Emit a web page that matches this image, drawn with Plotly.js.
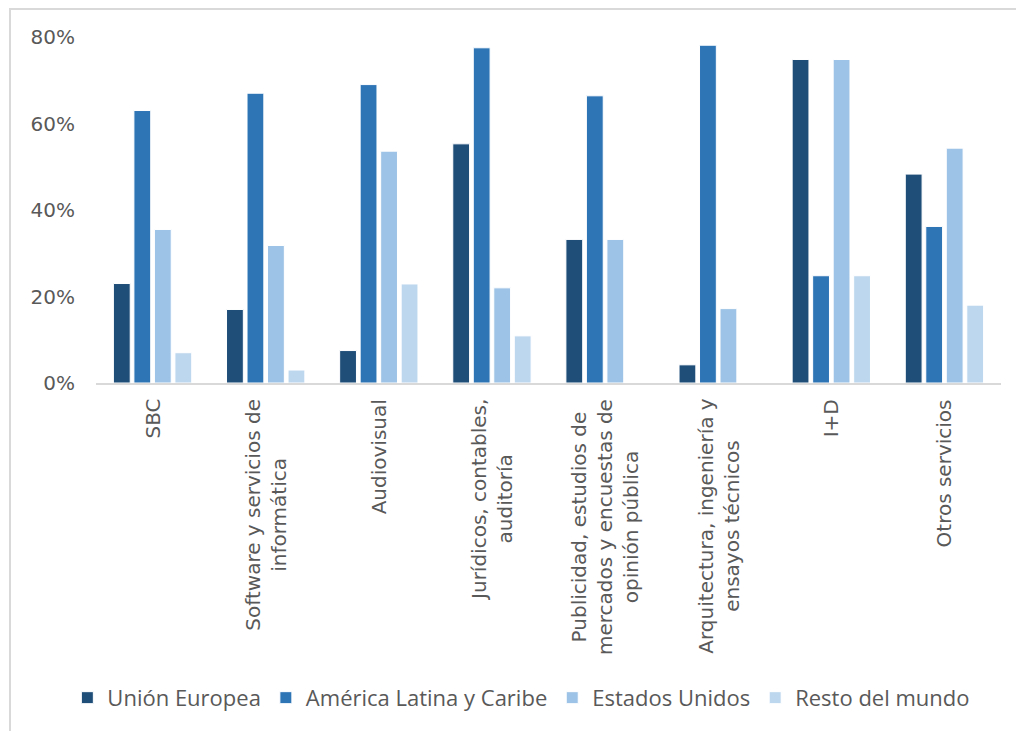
<!DOCTYPE html>
<html>
<head>
<meta charset="utf-8">
<script src="https://cdn.plot.ly/plotly-3.0.1.min.js"></script>
<style>
  html, body { margin: 0; padding: 0; background: #ffffff; overflow: hidden; }
  #frame { position: absolute; left: 9px; top: 8px; width: 1100px; height: 800px; border: 2px solid #d9d9d9; box-sizing: border-box; }
  #chart { position: absolute; left: 0; top: 0; width: 1016px; height: 731px; }
</style>
</head>
<body>
<div id="frame"></div>
<div id="chart"></div>
<script>
const categories = [
  "SBC",
  "Software y servicios de<br>informática",
  "Audiovisual",
  "Jurídicos, contables,<br>auditoría",
  "Publicidad, estudios de<br>mercados y encuestas de<br>opinión pública",
  "Arquitectura, ingeniería y<br>ensayos técnicos",
  "I+D",
  "Otros servicios"
];
const seriesNames = ["Unión Europea", "América Latina y Caribe", "Estados Unidos", "Resto del mundo"];
const unionEuropea   = [0.23, 0.17, 0.075, 0.553, 0.332, 0.042, 0.748, 0.483];
const americaLatina  = [0.63, 0.67, 0.69, 0.775, 0.664, 0.781, 0.248, 0.362];
const estadosUnidos  = [0.355, 0.318, 0.536, 0.22, 0.332, 0.172, 0.748, 0.543];
const restoMundo     = [0.07, 0.03, 0.229, 0.109, 0, 0, 0.248, 0.18];
const yTickValues = [0, 0.2, 0.4, 0.6, 0.8];
const yTickLabels = ["0%", "20%", "40%", "60%", "80%"];

const colors = ["#1f4e79", "#2e75b6", "#9dc3e6", "#bdd7ee"];
const allSeries = [unionEuropea, americaLatina, estadosUnidos, restoMundo];

const traces = allSeries.map((vals, i) => ({
  type: "bar",
  name: seriesNames[i],
  x: categories,
  y: vals,
  marker: { color: colors[i], line: { color: "#ffffff", width: 1 } },
  hoverinfo: "x+y+name"
}));

const annotations = categories.map(c => ({
  x: c, xref: "x",
  y: 0, yref: "paper",
  yanchor: "top", xanchor: "center",
  yshift: -14,
  text: c,
  textangle: -90,
  align: "center",
  showarrow: false,
  font: { family: "DejaVu Sans", size: 20, color: "#595959" }
}));

const layout = {
  width: 1016, height: 731,
  margin: { l: 96, r: 15, t: 37, b: 348 },
  paper_bgcolor: "rgba(0,0,0,0)",
  plot_bgcolor: "rgba(0,0,0,0)",
  barmode: "group",
  bargap: 0.275,
  bargroupgap: 0.18,
  showlegend: true,
  legend: {
    orientation: "h",
    x: 0.47, xanchor: "center",
    y: -0.91, yanchor: "middle",
    font: { family: "Open Sans", size: 22, color: "#595959" },
    bgcolor: "rgba(0,0,0,0)"
  },
  xaxis: {
    type: "category",
    showticklabels: false,
    showline: true, linecolor: "#d9d9d9", linewidth: 2,
    ticks: "", showgrid: false, zeroline: false, fixedrange: true
  },
  yaxis: {
    range: [0, 0.8],
    tickvals: yTickValues,
    ticktext: yTickLabels,
    showgrid: false, zeroline: false, showline: false,
    ticks: "",
    ticklabelstandoff: 20,
    tickfont: { family: "DejaVu Sans", size: 20, color: "#595959" },
    fixedrange: true
  },
  annotations: annotations
};

Plotly.newPlot("chart", traces, layout, { displayModeBar: false, staticPlot: true });
</script>
</body>
</html>
